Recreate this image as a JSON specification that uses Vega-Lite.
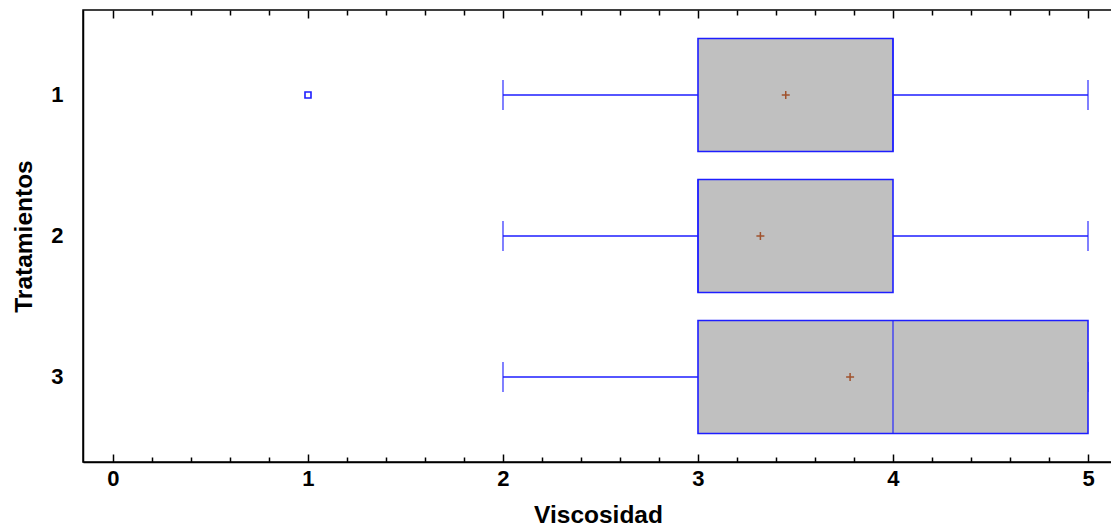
{
  "$schema": "https://vega.github.io/schema/vega-lite/v6.json",
  "width": 1030,
  "height": 452,
  "autosize": {"type": "none"},
  "padding": {"left": 83, "top": 10, "right": 0, "bottom": 66},
  "background": "white",
  "config": {
    "view": {"stroke": "black", "strokeWidth": 1.5},
    "font": "Liberation Sans"
  },
  "datasets": {
    "boxes": [
      {"Tratamiento": "1", "min": 2, "q1": 3, "median": 4, "q3": 4, "max": 5, "mean": 3.45},
      {"Tratamiento": "2", "min": 2, "q1": 3, "median": 3, "q3": 4, "max": 5, "mean": 3.32},
      {"Tratamiento": "3", "min": 2, "q1": 3, "median": 4, "q3": 5, "max": 5, "mean": 3.78}
    ],
    "outliers": [
      {"Tratamiento": "1", "Viscosidad": 1}
    ]
  },
  "resolve": {"axis": {"x": "independent"}},
  "layer": [
    {
      "data": {"name": "boxes"},
      "mark": {"type": "rule", "color": "#1e1eff", "strokeWidth": 1.6},
      "encoding": {
        "x": {
          "field": "min", "type": "quantitative",
          "scale": {"domain": [-0.1538, 5.1282], "nice": false, "zero": false},
          "axis": {
            "orient": "bottom",
            "title": "Viscosidad",
            "values": [0,0.2,0.4,0.6,0.8,1,1.2,1.4,1.6,1.8,2,2.2,2.4,2.6,2.8,3,3.2,3.4,3.6,3.8,4,4.2,4.4,4.6,4.8,5],
            "labelExpr": "abs(datum.value - round(datum.value)) < 0.001 ? format(datum.value, 'd') : ''",
            "tickSize": {"condition": {"test": "abs(datum.value - round(datum.value)) < 0.001", "value": -8}, "value": -5},
            "tickColor": "black",
            "tickWidth": 1.5,
            "domainColor": "black",
            "domainWidth": 1.5,
            "grid": false,
            "labelFlush": false,
            "labelFontSize": 22,
            "labelFontWeight": "bold",
            "labelColor": "black",
            "labelPadding": 14,
            "titleFontSize": 24.5,
            "titleFontWeight": "bold",
            "titleColor": "black",
            "titlePadding": 14
          }
        },
        "x2": {"field": "max"},
        "y": {
          "field": "Tratamiento", "type": "nominal",
          "scale": {"type": "band", "domain": ["1", "2", "3"], "paddingInner": 0, "paddingOuter": 0.103},
          "axis": {
            "title": "Tratamientos",
            "ticks": false,
            "domainColor": "black",
            "domainWidth": 1.5,
            "labelAngle": 0,
            "labelFontSize": 22,
            "labelFontWeight": "bold",
            "labelColor": "black",
            "labelPadding": 20,
            "titleFontSize": 24.5,
            "titleFontWeight": "bold",
            "titleColor": "black",
            "titlePadding": 14
          }
        }
      }
    },
    {
      "data": {"name": "boxes"},
      "mark": {"type": "tick", "color": "#1e1eff", "thickness": 1.6, "size": 30, "orient": "vertical"},
      "encoding": {
        "x": {"field": "min", "type": "quantitative", "axis": null},
        "y": {"field": "Tratamiento", "type": "nominal"}
      }
    },
    {
      "data": {"name": "boxes"},
      "mark": {"type": "tick", "color": "#1e1eff", "thickness": 1.6, "size": 30, "orient": "vertical"},
      "encoding": {
        "x": {"field": "max", "type": "quantitative", "axis": null},
        "y": {"field": "Tratamiento", "type": "nominal"}
      }
    },
    {
      "data": {"name": "boxes"},
      "mark": {"type": "bar", "fill": "#c0c0c0", "stroke": "#1e1eff", "strokeWidth": 1.6, "size": 113},
      "encoding": {
        "x": {
          "field": "q1", "type": "quantitative",
          "axis": {
            "orient": "top",
            "title": null,
            "labels": false,
            "domain": false,
            "grid": false,
            "values": [0,0.2,0.4,0.6,0.8,1,1.2,1.4,1.6,1.8,2,2.2,2.4,2.6,2.8,3,3.2,3.4,3.6,3.8,4,4.2,4.4,4.6,4.8,5],
            "tickSize": {"condition": {"test": "abs(datum.value - round(datum.value)) < 0.001", "value": -8}, "value": -5},
            "tickColor": "black",
            "tickWidth": 1.5
          }
        },
        "x2": {"field": "q3"},
        "y": {"field": "Tratamiento", "type": "nominal"}
      }
    },
    {
      "data": {"name": "boxes"},
      "mark": {"type": "tick", "color": "#1e1eff", "thickness": 1.6, "size": 113, "orient": "vertical"},
      "encoding": {
        "x": {"field": "median", "type": "quantitative", "axis": null},
        "y": {"field": "Tratamiento", "type": "nominal"}
      }
    },
    {
      "data": {"name": "boxes"},
      "mark": {"type": "point", "shape": "M-1,0H1M0,-1V1", "filled": false, "stroke": "#a0522d", "strokeWidth": 1.5, "size": 64, "opacity": 1},
      "encoding": {
        "x": {"field": "mean", "type": "quantitative", "axis": null},
        "y": {"field": "Tratamiento", "type": "nominal"}
      }
    },
    {
      "data": {"name": "outliers"},
      "mark": {"type": "point", "shape": "square", "filled": true, "fill": "white", "stroke": "#1e1eff", "strokeWidth": 1.6, "size": 36, "opacity": 1},
      "encoding": {
        "x": {"field": "Viscosidad", "type": "quantitative", "axis": null},
        "y": {"field": "Tratamiento", "type": "nominal"}
      }
    }
  ]
}
